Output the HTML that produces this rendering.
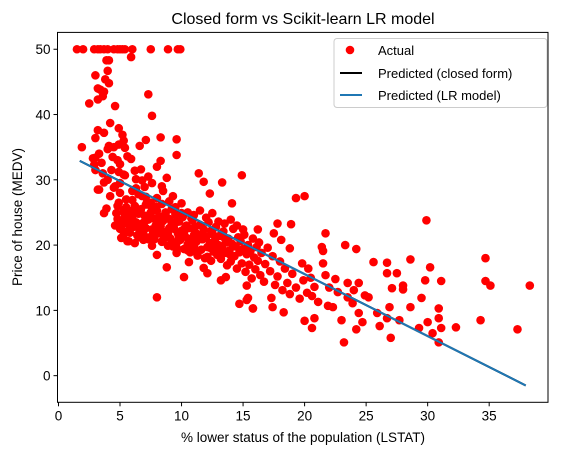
<!DOCTYPE html>
<html><head><meta charset="utf-8"><style>
body{margin:0;background:#fff;}
svg{display:block;font-family:"Liberation Sans","DejaVu Sans",sans-serif;}
</style></head><body>
<svg id="chart" width="562" height="455" viewBox="0 0 562 455">
<rect x="0" y="0" width="562" height="455" fill="#fff"/>
<text x="303" y="24" font-size="16" text-anchor="middle" fill="#000">Closed form vs Scikit-learn LR model</text>
<g id="marks"></g>
<rect x="57.5" y="32.4" width="490.5" height="369.9" fill="none" stroke="#000" stroke-width="1"/>
<g id="axes"></g>
<text x="303" y="442" font-size="13.5" text-anchor="middle">% lower status of the population (LSTAT)</text>
<text x="0" y="0" font-size="13.5" text-anchor="middle" transform="translate(22,217) rotate(-90)">Price of house (MEDV)</text>
<g>
<rect x="334" y="38.5" width="213" height="69" rx="3" fill="#fff" fill-opacity="0.8" stroke="#ccc"/>
<circle cx="350" cy="50" r="4.3" fill="#ff0000"/>
<text x="378" y="55" font-size="13">Actual</text>
<line x1="340" y1="73" x2="362" y2="73" stroke="#000" stroke-width="2"/>
<text x="378" y="78" font-size="13">Predicted (closed form)</text>
<line x1="340" y1="95" x2="362" y2="95" stroke="#1f77b4" stroke-width="2"/>
<text x="378" y="100" font-size="13">Predicted (LR model)</text>
</g>
</svg>
<script>
const xTicks=[0,5,10,15,20,25,30,35];
const yTicks=[0,10,20,30,40,50];
const lineX=[1.73,37.97];
const closedFormY=[32.9,-1.5];
const lrModelY=[32.9,-1.5];
const lstat=[1.5,2.0,2.9,3.2,3.4,3.7,4.0,4.5,4.8,5.0,5.2,5.4,6.0,7.5,8.9,9.7,9.9,5.9,
3.9,4.1,4.0,3.0,3.8,4.1,3.2,3.4,3.7,3.6,3.2,2.5,4.6,7.3,7.6,4.2,4.9,3.2,3.7,5.2,3.0,5.3,7.1,8.3,9.6,1.9,4.9,4.5,5.4,6.6,4.0,9.6,3.0,4.8,5.9,8.3,5.0,8.0,6.7,4.3,4.9,5.4,8.8,3.7,4.6,6.8,7.6,3.3,5.0,6.3,8.5,9.3,7.1,4.9,5.3,7.5,3.7,
11.4,11.8,13.3,14.9,12.3,14.1,19.3,20.0,29.9,21.7,23.3,24.2,21.4,21.5,17.8,18.9,16.2,17.5,18.1,18.8,25.6,26.7,28.6,34.7,30.2,26.7,27.5,21.5,19.8,20.3,21.7,29.8,31.1,34.7,35.1,38.3,27.1,28.0,28.0,23.5,24.4,22.7,24.9,25.2,29.5,20.8,20.6,21.1,21.9,22.3,23.9,26.9,28.6,30.9,30.9,25.9,26.7,27.7,24.4,24.7,23.0,20.0,20.8,20.6,24.2,26.1,30.0,29.3,31.1,32.3,34.3,37.3,30.4,30.9,27.0,23.2,18.3,17.4,15.8,14.7,15.4,17.3,
8.0,10.2,8.8,13.6,13.2,12.1,15.3,15.8,15.3,5.6,6.9,8.0,9.6,10.6,11.8,
4.6,4.8,5.0,5.2,5.3,5.5,5.6,5.7,5.8,5.9,6.0,6.1,6.2,6.3,6.4,6.5,6.6,6.7,6.8,6.9,7.0,7.1,7.2,7.3,7.4,7.5,7.6,7.7,7.8,7.9,8.0,8.1,8.2,8.3,8.4,8.5,8.6,8.7,8.8,8.9,9.0,9.1,9.2,9.3,9.4,9.5,9.6,9.7,9.8,9.9,10.0,10.1,10.2,10.3,10.4,10.5,10.6,10.7,10.8,10.9,11.0,11.1,11.2,11.3,11.4,11.5,11.6,11.7,11.8,11.9,12.0,12.1,12.2,12.3,12.4,12.5,12.6,12.7,12.8,12.9,13.0,13.1,13.2,13.3,13.4,13.5,13.6,13.7,13.8,13.9,14.0,14.1,14.2,14.3,14.4,14.5,14.6,14.7,14.8,14.9,15.0,15.1,15.2,15.3,15.4,15.5,15.6,15.7,15.8,15.9,16.0,16.1,16.2,16.3,16.4,16.5,16.7,16.8,17.0,17.2,17.4,17.6,17.8,18.0,18.2,18.4,18.6,18.8,19.0,19.3,19.6,19.9,20.2,20.5,22.0,22.5,23.5,24.0,
3.0,3.5,4.0,4.2,4.5,5.0,5.5,6.0,6.5,7.0,7.5,8.0,4.8,5.3,6.2,2.9,3.3,3.6,4.4,4.1,5.6,6.3,9.0,9.5,10.0,10.5,11.0,11.5,12.0,12.5,13.0,13.5,14.0,14.5,15.0,3.2,7.3,8.4,2.8,3.9,6.7,7.6,6.2,5.1,
5.1,5.4,5.8,6.2,6.6,7.0,7.4,7.8,8.2,8.6,9.0,9.4,9.8,10.2,10.6,11.0,5.3,5.7,6.1,6.5,6.9,7.3,7.7,8.1,8.5,8.9,9.3,9.7,10.1,10.5,4.7,5.5,6.3,7.1,7.9,8.7,9.5,10.3,11.1,11.9,12.3,12.7,13.1,13.5,13.9,11.3,11.7,12.1,12.5,12.9,6.0,6.8,7.6,8.4,9.2,10.0,10.8,11.6,12.4,13.2];
const medv=[50,50,50,50,50,50,50,50,50,50,50,50,50,50,50,50,50,48.8,
48.3,48.3,46.7,46.0,45.4,44.8,44.0,43.8,43.5,42.8,42.3,41.7,41.3,43.1,39.8,38.7,37.9,37.6,37.2,36.9,36.4,36.0,36.1,36.5,36.2,35.0,35.4,35.0,34.9,35.2,34.7,33.8,33.4,33.0,33.2,32.9,32.4,32.0,31.6,31.5,31.2,30.7,30.3,29.6,29.0,29.9,29.5,28.5,28.0,28.7,28.3,27.5,27.4,26.5,25.4,26.0,24.9,
31.0,29.7,29.6,30.7,27.9,26.4,27.2,27.5,23.8,21.8,20.0,19.4,19.7,19.1,23.3,23.2,22.4,21.8,20.8,19.5,17.4,17.3,17.8,18.0,16.6,15.7,15.7,17.2,17.2,16.4,15.4,14.6,14.5,14.5,13.8,13.8,13.4,13.8,13.2,14.2,14.2,12.8,12.3,12.0,11.9,13.6,12.2,11.3,10.7,10.5,11.1,10.5,10.5,10.3,8.8,9.6,8.8,8.5,9.6,8.2,8.5,8.4,8.8,7.3,7.1,7.6,8.2,7.3,7.3,7.4,8.5,7.1,6.5,5.1,5.8,5.1,9.7,10.5,10.3,11.0,11.9,11.9,
12.0,15.1,16.6,15.1,14.6,15.7,11.6,10.3,13.8,20.6,20.8,18.5,18.8,17.4,16.5,
23.0,24.0,22.5,23.8,25.0,22.0,24.3,23.1,21.9,25.2,24.0,22.8,26.0,23.5,21.5,24.8,22.2,25.5,23.3,21.7,24.5,22.6,26.6,23.9,21.2,25.0,22.4,24.1,20.9,23.0,25.3,21.8,24.4,22.9,20.5,23.7,21.4,25.0,22.1,19.9,24.0,21.0,23.2,20.4,22.5,24.7,19.6,21.8,23.6,20.8,22.2,24.3,19.4,21.3,23.0,20.1,22.6,18.9,21.0,23.8,19.8,22.0,20.5,18.4,21.6,23.1,19.3,20.9,22.4,18.0,21.2,19.7,23.5,20.3,17.6,21.9,19.0,20.7,22.8,18.5,20.0,21.4,17.9,19.5,22.1,18.8,20.4,16.9,21.0,19.2,17.5,20.2,22.5,18.3,19.8,16.4,21.2,18.9,20.6,17.2,19.4,21.6,15.9,18.6,20.0,17.0,19.1,14.9,21.0,18.1,16.3,19.7,17.6,20.4,15.4,18.8,14.4,17.1,19.6,16.0,18.3,13.9,15.2,17.5,13.1,16.4,14.2,12.5,15.6,13.5,11.8,14.6,12.7,15.0,13.5,14.8,12.0,13.1,
31.5,32.6,30.0,27.5,28.8,29.5,27.0,28.3,27.8,28.9,26.5,27.2,26.0,30.8,31.4,32.3,34.0,31.0,33.5,35.2,33.6,30.1,26.7,25.8,26.4,25.0,24.6,25.3,24.2,24.9,23.6,23.3,23.9,23.0,22.4,28.5,30.5,29.0,33.3,25.6,23.0,19.9,20.3,21.1,
22.9,24.6,23.4,25.1,22.9,23.6,24.2,22.3,23.9,21.9,22.6,23.5,21.3,22.0,20.7,21.5,21.6,20.6,23.6,21.2,22.8,20.9,21.9,23.6,20.8,21.7,19.8,20.6,21.5,19.2,24.9,25.8,25.1,26.2,25.9,24.8,23.4,22.7,22.8,21.4,19.6,20.2,19.4,21.1,18.6,18.9,20.9,18.2,21.7,19.9,26.9,27.5,26.0,26.3,25.5,24.9,24.1,23.0,22.2,21.6];
const X0=57.5,X1=548,Y0=32.4,Y1=402.3,XMIN=-0.08,XMAX=39.78,YMIN=-4.08,YMAX=52.58;
function sx(v){return X0+(v-XMIN)/(XMAX-XMIN)*(X1-X0);}
function sy(v){return Y1-(v-YMIN)/(YMAX-YMIN)*(Y1-Y0);}
const NS='http://www.w3.org/2000/svg';
const marks=document.getElementById('marks');
const axes=document.getElementById('axes');
for(let i=0;i<lstat.length;i++){
  const c=document.createElementNS(NS,'circle');
  c.setAttribute('cx',sx(lstat[i]));c.setAttribute('cy',sy(medv[i]));
  c.setAttribute('r',4.3);c.setAttribute('fill','#ff0000');
  
  
  marks.appendChild(c);
}
function addLine(ys,color,name){
  const l=document.createElementNS(NS,'line');
  l.setAttribute('x1',sx(lineX[0]));l.setAttribute('y1',sy(ys[0]));
  l.setAttribute('x2',sx(lineX[1]));l.setAttribute('y2',sy(ys[1]));
  l.setAttribute('stroke',color);l.setAttribute('stroke-width',2);
  
  
  marks.appendChild(l);
}
addLine(closedFormY,'#000','closed-form-line');
addLine(lrModelY,'#1f77b4','lr-model-line');
xTicks.forEach(t=>{
  const x=sx(t);
  const l=document.createElementNS(NS,'line');
  l.setAttribute('x1',x);l.setAttribute('x2',x);l.setAttribute('y1',Y1);l.setAttribute('y2',Y1+4);
  l.setAttribute('stroke','#000');
  
  
  axes.appendChild(l);
  const tx=document.createElementNS(NS,'text');
  tx.setAttribute('x',x);tx.setAttribute('y',Y1+18);tx.setAttribute('font-size','13.5');tx.setAttribute('text-anchor','middle');
  tx.textContent=t;
  
  
  axes.appendChild(tx);
});
yTicks.forEach(t=>{
  const y=sy(t);
  const l=document.createElementNS(NS,'line');
  l.setAttribute('x1',X0-4);l.setAttribute('x2',X0);l.setAttribute('y1',y);l.setAttribute('y2',y);
  l.setAttribute('stroke','#000');
  
  
  axes.appendChild(l);
  const tx=document.createElementNS(NS,'text');
  tx.setAttribute('x',X0-7);tx.setAttribute('y',y+5);tx.setAttribute('font-size','13.5');tx.setAttribute('text-anchor','end');
  tx.textContent=t;
  
  
  axes.appendChild(tx);
});
</script>
</body></html>
